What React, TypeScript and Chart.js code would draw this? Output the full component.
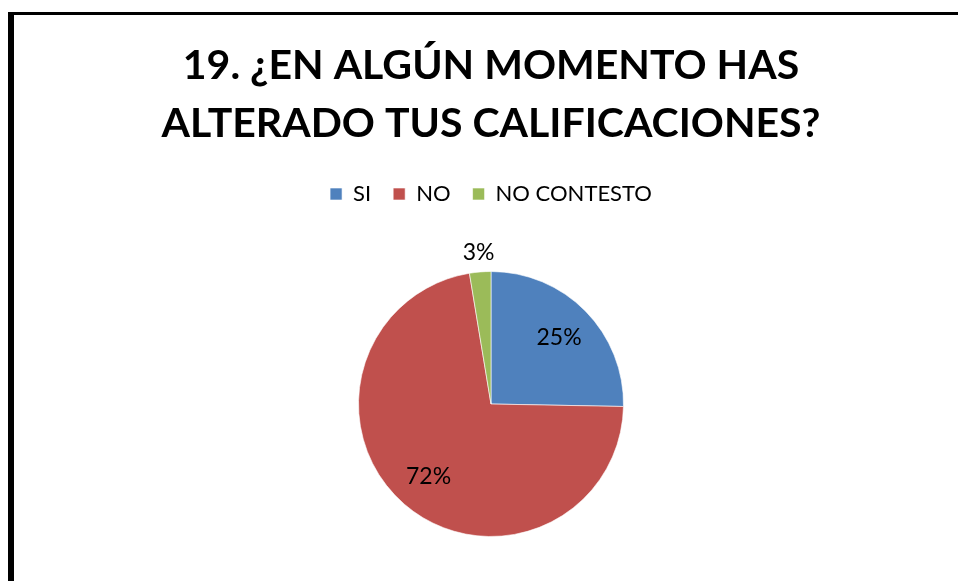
import { useEffect, useRef } from "react";
import { Chart, registerables } from "chart.js";

Chart.register(...registerables);

const TITLE_LINES = ["19. ¿EN ALGÚN MOMENTO HAS", "ALTERADO TUS CALIFICACIONES?"];
const CATEGORIES = ["SI", "NO", "NO CONTESTO"];
const PERCENTS = [25.3, 72.1, 2.6];
const COLORS = ["#4F81BD", "#C0504D", "#9BBB59"];

const FONT = "Lato, 'Open Sans', sans-serif";
const LEGEND_GAP = 56;

const labelPlugin = {
  id: "pctLabels",
  afterDatasetsDraw(chart: any) {
    const ctx = chart.ctx;
    const meta = chart.getDatasetMeta(0);
    ctx.save();
    ctx.font = `23px ${FONT}`;
    ctx.fillStyle = "#000";
    ctx.textAlign = "center";
    ctx.textBaseline = "middle";
    meta.data.forEach((arc: any, i: number) => {
      const { x, y, startAngle, endAngle, outerRadius } = arc.getProps(
        ["x", "y", "startAngle", "endAngle", "outerRadius"],
        true
      );
      const mid = (startAngle + endAngle) / 2;
      const v = PERCENTS[i];
      const f = v < 10 ? 1.15 : 0.72;
      ctx.fillText(
        `${Math.round(v)}%`,
        x + Math.cos(mid) * outerRadius * f,
        y + Math.sin(mid) * outerRadius * f
      );
    });
    ctx.restore();
  },
};

const legendGapPlugin = {
  id: "legendGap",
  beforeInit(chart: any) {
    const legend = chart.legend;
    if (!legend) return;
    const orig = legend.fit;
    legend.fit = function () {
      orig.call(this);
      this.height += LEGEND_GAP;
    };
  },
};

export default function App() {
  const ref = useRef<HTMLCanvasElement | null>(null);

  useEffect(() => {
    if (!ref.current) return;
    const chart = new Chart(ref.current, {
      type: "pie",
      data: {
        labels: CATEGORIES,
        datasets: [
          {
            data: PERCENTS,
            backgroundColor: COLORS,
            borderColor: "rgba(255,255,255,0.6)",
            borderWidth: 1,
          },
        ],
      },
      options: {
        animation: false,
        responsive: false,
        layout: { padding: { left: 24, bottom: 44 } },
        plugins: {
          tooltip: { enabled: false },
          title: {
            display: true,
            text: TITLE_LINES,
            color: "#000",
            font: { family: FONT, size: 41, weight: "bold", lineHeight: "58px" } as any,
            padding: { top: 37, bottom: 8 },
          },
          legend: {
            display: true,
            position: "top",
            labels: {
              boxWidth: 12,
              boxHeight: 12,
              padding: 22,
              color: "#000",
              font: { family: FONT, size: 22 },
            },
          },
        },
      },
      plugins: [legendGapPlugin, labelPlugin],
    });
    return () => chart.destroy();
  }, []);

  return (
    <div
      style={{
        position: "fixed",
        left: 0,
        top: 0,
        width: 958,
        height: 581,
        overflow: "hidden",
        background: "#fff",
      }}
    >
      <div
        style={{
          position: "absolute",
          left: 8,
          top: 12,
          width: 1000,
          height: 700,
          borderLeft: "6px solid #000",
          borderTop: "3px solid #000",
        }}
      />
      <canvas
        ref={ref}
        width={958}
        height={581}
        style={{ position: "absolute", left: 0, top: 0, width: 958, height: 581 }}
      />
    </div>
  );
}
